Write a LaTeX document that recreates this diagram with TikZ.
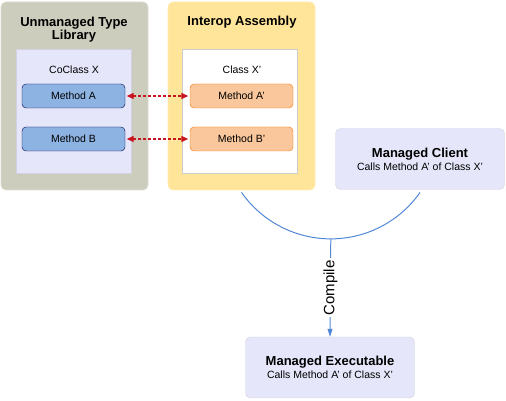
\documentclass[tikz,border=0pt]{standalone}
\usepackage{fontspec}
\setmainfont{Liberation Sans}
\usetikzlibrary{arrows.meta}
\definecolor{libgray}{HTML}{CDCDBD}
\definecolor{asmyellow}{HTML}{FFE599}
\definecolor{lavender}{HTML}{E6E6FA}
\definecolor{methblue}{HTML}{8DB3E2}
\definecolor{methorange}{HTML}{F9C79B}
\definecolor{linkred}{HTML}{C8141E}
\definecolor{flowblue}{HTML}{5288D6}
\tikzset{
  container/.style = {rounded corners=5pt, minimum width=147pt, minimum height=188pt, draw=#1!70!white, fill=#1, line width=0.8pt},
  innerbox/.style = {minimum width=115pt, minimum height=124pt, fill=#1, draw=#1!80!gray},
  methbox/.style = {rounded corners=4pt, minimum width=103pt, minimum height=24pt, font=\fontsize{10.5}{12}\selectfont},
  unmanaged/.style = {methbox, fill=methblue, draw=blue!30!black},
  interop/.style = {methbox, fill=methorange, draw=orange!90!red},
  title/.style = {font=\bfseries\fontsize{13}{16}\selectfont, align=center},
  caption/.style = {font=\fontsize{10.5}{12}\selectfont},
  clientbox/.style = {rounded corners=5pt, fill=lavender, draw=lavender!80!gray, minimum width=169pt, minimum height=61pt, align=center},
  link/.style = {linkred, line width=1.3pt, dash pattern=on 3pt off 2pt, {Triangle[length=7pt,width=6pt]}-{Triangle[length=7pt,width=6pt]}, shorten <=1.5pt, shorten >=1.5pt},
  flow/.style = {flowblue, line width=1pt}
}
\begin{document}
\begin{tikzpicture}[x=1pt,y=1pt]
  \useasboundingbox (0,0) rectangle (506,401);
  % unmanaged type library
  \node[container=libgray] (typelib) at (74.5,305) {};
  \node[innerbox=lavender] (coclass) at (74,289.5) {};
  \node[title] at (74,371) {Unmanaged Type\\[-3pt]Library};
  \node[caption] at (74,331) {CoClass X};
  \node[unmanaged] (ma) at (73.5,305) {Method A};
  \node[unmanaged] (mb) at (73.5,262) {Method B};
  % interop assembly
  \node[container=asmyellow] (asm) at (241.5,305) {};
  \node[innerbox=white, draw=gray!40] (classx) at (240,290) {};
  \node[title] at (242,379) {Interop Assembly};
  \node[caption] at (242,331) {Class X'};
  \node[interop] (mai) at (241.5,305) {Method A'};
  \node[interop] (mbi) at (241.5,262) {Method B'};
  \draw[link] (ma.east) -- (mai.west);
  \draw[link] (mb.east) -- (mbi.west);
  % client and executable
  \node[clientbox] (client) at (420,242) {{\bfseries\fontsize{13}{16}\selectfont Managed Client}\\[1pt]{\fontsize{10.5}{12}\selectfont Calls Method A' of Class X'}};
  \node[clientbox] (exe) at (330,33.5) {{\bfseries\fontsize{13}{16}\selectfont Managed Executable}\\[1pt]{\fontsize{10.5}{12}\selectfont Calls Method A' of Class X'}};
  \draw[flow] ([yshift=-2pt]asm.south) arc[start angle=215, end angle=270, radius=109] coordinate (bend)
    arc[start angle=270, end angle=325, radius=109];
  \draw[flow, -{Triangle[length=8pt,width=5pt]}] (bend) -- node[rotate=90, fill=white, text=black, inner sep=2pt, font=\fontsize{15}{18}\selectfont] {Compile} (exe.north);
\end{tikzpicture}
\end{document}
